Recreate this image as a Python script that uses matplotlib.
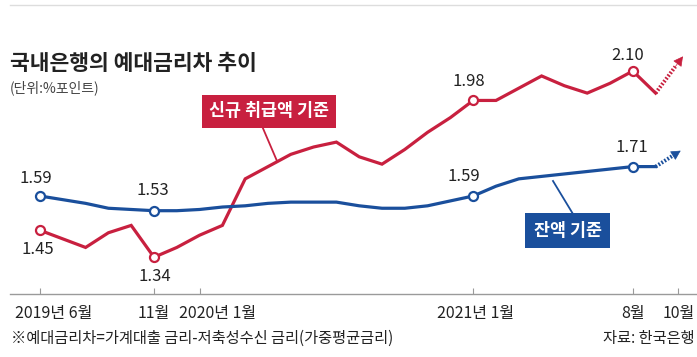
import numpy as np
import matplotlib
matplotlib.use("Agg")
import matplotlib.pyplot as plt
from matplotlib.lines import Line2D

plt.rcParams['font.family'] = ['Noto Sans CJK KR', 'DejaVu Sans']

# 월 인덱스: 0 = 2019년 6월 ... 27 = 2021년 9월
months = np.arange(28)
# 신규 취급액 기준
new_rate = [1.45, 1.415, 1.38, 1.44, 1.47, 1.34, 1.38, 1.43, 1.47, 1.66,
            1.71, 1.76, 1.79, 1.81, 1.75, 1.72, 1.78, 1.85, 1.91, 1.98,
            1.98, 2.03, 2.08, 2.04, 2.01, 2.05, 2.10, 2.01]
# 잔액 기준
bal_rate = [1.59, 1.575, 1.56, 1.54, 1.535, 1.53, 1.53, 1.535, 1.545, 1.55,
            1.56, 1.565, 1.565, 1.565, 1.55, 1.54, 1.54, 1.55, 1.57, 1.59,
            1.63, 1.66, 1.67, 1.68, 1.69, 1.70, 1.71, 1.71]
# 점선 화살표 끝 (10월 방향)
new_arrow = (28.2, 2.16)
bal_arrow = (28.1, 1.775)

mark_idx = [0, 5, 19, 26]
new_lbl = ['1.45', '1.34', '1.98', '2.10']
bal_lbl = ['1.59', '1.53', '1.59', '1.71']

tick_pos = [0, 5, 7, 19, 26, 28]
tick_lbl = ['2019년 6월', '11월', '2020년 1월', '2021년 1월', '8월', '10월']

RED = '#c8203f'
BLUE = '#1a4f9c'
TXT = '#222222'

W, H = 697, 357
fig = plt.figure(figsize=(W / 100, H / 100), dpi=100)

def fx(x):
    return x / W

def fy(y):
    return 1 - y / H

# axes: 밑선 y=294px, 위 y=20px, 왼쪽 x=10px
ax = fig.add_axes([fx(10), fy(294), 1 - fx(10), (294 - 20) / H])
ax.set_xlim((10 - 40) / 22.8, (697 - 40) / 22.8)
ax.set_ylim(1.59 - 98 / 245, 1.59 + 176 / 245)
ax.patch.set_alpha(0)
for s in ['top', 'right', 'left']:
    ax.spines[s].set_visible(False)
ax.spines['bottom'].set_color('#9a9a9a')
ax.spines['bottom'].set_linewidth(1.0)
ax.set_yticks([])
ax.set_xticks(tick_pos)
ax.set_xticklabels([''] * len(tick_pos))
ax.tick_params(axis='x', direction='in', length=4, color='#9a9a9a', width=0.8)

shift = [0.6, 0.0, 0.8, 0.1, 0.0, 0.02]
for p, l, s in zip(tick_pos, tick_lbl, shift):
    ax.text(p + s, -0.07, l, transform=ax.get_xaxis_transform(),
            ha='center', va='center', fontsize=11.5, color=TXT)

# 선
ax.plot(months, new_rate, color=RED, lw=2.3, solid_joinstyle='miter', zorder=3)
ax.plot(months, bal_rate, color=BLUE, lw=2.3, solid_joinstyle='miter', zorder=3)

# 점선 화살표
for ser, end, c in [(new_rate, new_arrow, RED), (bal_rate, bal_arrow, BLUE)]:
    x0, y0 = months[-1], ser[-1]
    # 머리 직전까지 점선
    xm = x0 + (end[0] - x0) * 0.72
    ym = y0 + (end[1] - y0) * 0.72
    ax.plot([x0, xm], [y0, ym], color=c, lw=2.8, linestyle=(0, (0.45, 0.45)),
            dash_capstyle='butt', zorder=3)
    ax.annotate('', xy=end, xytext=(xm, ym),
                arrowprops=dict(arrowstyle='-|>,head_length=0.6,head_width=0.32',
                                color=c, lw=0.5, shrinkA=0, shrinkB=0), zorder=3)

# 표시점 + 값
nx = [months[i] for i in mark_idx]
ax.plot(nx, [new_rate[i] for i in mark_idx], 'o', ms=6.5, mfc='white',
        mec=RED, mew=1.6, zorder=4)
ax.plot(nx, [bal_rate[i] for i in mark_idx], 'o', ms=6.5, mfc='white',
        mec=BLUE, mew=1.6, zorder=4)

new_off = [(-2, -19), (1, -19), (-4, 19), (-5, 16)]
bal_off = [(-4, 17), (-1, 20), (-9, 19), (-1, 19)]
for i, l, o in zip(mark_idx, new_lbl, new_off):
    ax.annotate(l, (months[i], new_rate[i]), xytext=(o[0] * 0.72, o[1] * 0.72),
                textcoords='offset points', ha='center', va='center',
                fontsize=12, color=TXT)
for i, l, o in zip(mark_idx, bal_lbl, bal_off):
    ax.annotate(l, (months[i], bal_rate[i]), xytext=(o[0] * 0.72, o[1] * 0.72),
                textcoords='offset points', ha='center', va='center',
                fontsize=12, color=TXT)

# 범례 상자와 지시선
fig.add_artist(Line2D([fx(262), fx(277)], [fy(126), fy(161)], color=RED, lw=1.3))
fig.text(fx(269), fy(111.5), '신규 취급액 기준', ha='center', va='center',
         fontsize=12.5, fontweight='bold', color='white',
         bbox=dict(boxstyle='square,pad=0.42', fc=RED, ec='none'))
fig.add_artist(Line2D([fx(573), fx(553)], [fy(214), fy(181)], color=BLUE, lw=1.3))
fig.text(fx(567.5), fy(230.5), '잔액 기준', ha='center', va='center',
         fontsize=12.5, fontweight='bold', color='white',
         bbox=dict(boxstyle='square,pad=0.5', fc=BLUE, ec='none'))

# 제목, 단위, 주석
fig.add_artist(Line2D([fx(10), 1], [fy(5), fy(5)], color='#dddddd', lw=1))
fig.text(fx(10), fy(63), '국내은행의 예대금리차 추이', ha='left', va='center',
         fontsize=15.5, fontweight='bold', color=TXT)
fig.text(fx(10), fy(88), '(단위:%포인트)', ha='left', va='center',
         fontsize=10, color='#444444')
fig.text(fx(11), fy(338), '※예대금리차=가계대출 금리-저축성수신 금리(가중평균금리)',
         ha='left', va='center', fontsize=11, color=TXT)
fig.text(fx(603), fy(338), '자료: 한국은행', ha='left', va='center',
         fontsize=11, color=TXT)

fig.savefig('out.png', dpi=100, facecolor='white')
